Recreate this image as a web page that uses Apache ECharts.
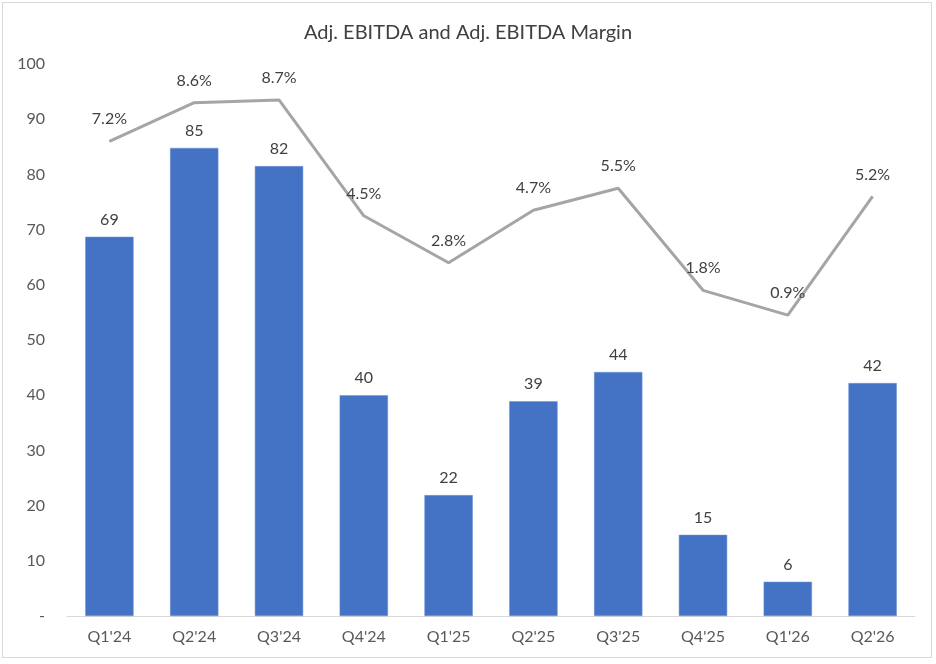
<!DOCTYPE html>
<html>
<head>
<meta charset="utf-8">
<script src="https://cdn.jsdelivr.net/npm/echarts@6/dist/echarts.min.js"></script>
<style>
  html, body { margin: 0; padding: 0; background: #fff; }
  #chart { width: 936px; height: 664px; }
  .frame { position: absolute; left: 2px; top: 2px; width: 930px; height: 656px; border: 1px solid #d9d9d9; box-sizing: border-box; pointer-events: none; }
</style>
</head>
<body>
<div id="chart"></div>
<div class="frame"></div>
<script>
// quarters
var quarters = ["Q1'24", "Q2'24", "Q3'24", "Q4'24", "Q1'25", "Q2'25", "Q3'25", "Q4'25", "Q1'26", "Q2'26"];
// Adj. EBITDA (bars)
var ebitda = [68.7, 84.8, 81.5, 40.0, 21.9, 38.9, 44.2, 14.7, 6.2, 42.2];
// Adj. EBITDA margin, % (line, secondary axis)
var margin = [7.2, 8.6, 8.7, 4.5, 2.8, 4.7, 5.5, 1.8, 0.9, 5.2];

var textColor = '#595959';
var font = 'Lato, "Open Sans", sans-serif';

var options = {
    animation: false,
    title: {
        text: 'Adj. EBITDA and Adj. EBITDA Margin',
        left: 'center',
        top: 18,
        textStyle: {
            fontFamily: font,
            fontSize: 20,
            fontWeight: 'normal',
            color: '#404040'
        }
    },
    grid: {
        left: 67,
        right: 21,
        top: 64,
        bottom: 48
    },
    xAxis: {
        type: 'category',
        data: quarters,
        axisTick: { show: false },
        axisLine: { lineStyle: { color: '#d9d9d9', width: 1 } },
        axisLabel: {
            margin: 13,
            fontFamily: font,
            fontSize: 16,
            color: textColor
        }
    },
    yAxis: [
        {
            type: 'value',
            min: 0,
            max: 100,
            interval: 10,
            splitLine: { show: false },
            axisLine: { show: false },
            axisTick: { show: false },
            axisLabel: {
                margin: 22,
                fontFamily: font,
                fontSize: 16,
                color: textColor,
                formatter: function (v) {
                    return v === 0 ? '-' : v;
                }
            }
        },
        {
            type: 'value',
            min: -10,
            max: 10,
            show: false,
            splitLine: { show: false }
        }
    ],
    series: [
        {
            name: 'Adj. EBITDA',
            type: 'bar',
            barWidth: '57%',
            data: ebitda,
            itemStyle: {
                color: '#4472c4',
                borderColor: '#6f93d4',
                borderWidth: 0.5
            },
            label: {
                show: true,
                position: 'top',
                distance: 9,
                fontFamily: font,
                fontSize: 16,
                color: '#404040',
                formatter: function (p) {
                    return Math.round(p.value);
                }
            }
        },
        {
            name: 'Adj. EBITDA Margin',
            type: 'line',
            yAxisIndex: 1,
            data: margin,
            symbol: 'circle',
            symbolSize: 0.1,
            showSymbol: true,
            itemStyle: { color: '#a5a5a5' },
            lineStyle: { color: '#a5a5a5', width: 3 },
            label: {
                show: true,
                position: 'top',
                distance: 14,
                fontFamily: font,
                fontSize: 16,
                color: '#404040',
                formatter: function (p) {
                    return p.value.toFixed(1) + '%';
                }
            }
        }
    ]
};

var chart = echarts.init(document.getElementById('chart'));
chart.setOption(options);
</script>
</body>
</html>
